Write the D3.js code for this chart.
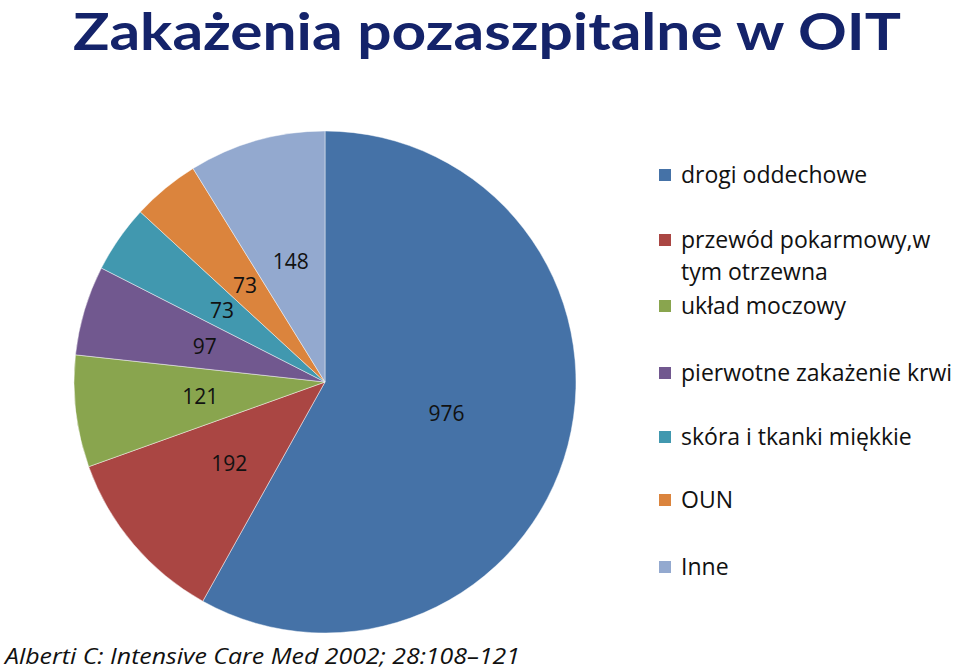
<!DOCTYPE html>
<html><head><meta charset="utf-8">
<script src="https://cdn.jsdelivr.net/npm/d3@7/dist/d3.min.js"></script>
<style>body{margin:0;background:#fff}svg{display:block}</style>
</head><body>
<svg id="c" width="960" height="670"></svg>
<script>
const categories = ["drogi oddechowe","przewód pokarmowy,w|tym otrzewna","układ moczowy","pierwotne zakażenie krwi","skóra i tkanki miękkie","OUN","Inne"];
const values = [976,192,121,97,73,73,148];
const colors = ["#4572A7","#AA4643","#89A54E","#71588F","#4198AF","#DB843D","#93A9CF"];
const legendY = [175,240,306,373,437,500,567];
const titleText = "Zakażenia pozaszpitalne w OIT";
const footerText = "Alberti C: Intensive Care Med 2002; 28:108–121";

const svg = d3.select("#c");
const tfont = "Lato, 'Open Sans', sans-serif";
const font = "'Open Sans', Lato, sans-serif";
const cx = 325, cy = 382, R = 251;

svg.append("text").attr("x",73).attr("y",50).attr("font-family",tfont)
  .attr("font-weight","bold").attr("font-size",52).attr("fill","#14236a")
  .attr("textLength",828).attr("lengthAdjust","spacingAndGlyphs").text(titleText);

const pie = d3.pie().sort(null).value(d=>d)(values);
const arc = d3.arc().innerRadius(0).outerRadius(R);
const lab = d3.arc().innerRadius(R/2).outerRadius(R/2);
const g = svg.append("g").attr("transform",`translate(${cx},${cy})`);
g.selectAll("path").data(pie).join("path").attr("d",arc)
  .attr("fill",(d,i)=>colors[i]).attr("stroke","rgba(255,255,255,0.45)").attr("stroke-width",1);
g.selectAll("text").data(pie).join("text")
  .attr("transform",d=>{const c=lab.centroid(d);return `translate(${c[0]},${c[1]})`;})
  .attr("text-anchor","middle").attr("dy","0.36em").attr("font-family",font)
  .attr("font-size",21).attr("fill","#111").text(d=>d.data);

const lg = svg.append("g");
categories.forEach((c,i)=>{
  const y = legendY[i];
  lg.append("rect").attr("x",659).attr("y",y-6).attr("width",12).attr("height",12).attr("fill",colors[i]);
  const parts = c.split("|");
  parts.forEach((p,j)=>{
    lg.append("text").attr("x",681).attr("y",y+j*32).attr("dy","0.36em")
      .attr("font-family",font).attr("font-size",23).attr("fill","#111").text(p);
  });
});

svg.append("text").attr("x",5).attr("y",664).attr("font-family",font)
  .attr("font-style","italic").attr("font-size",22).attr("fill","#111")
  .attr("textLength",515).attr("lengthAdjust","spacingAndGlyphs").text(footerText);
</script>
</body></html>
